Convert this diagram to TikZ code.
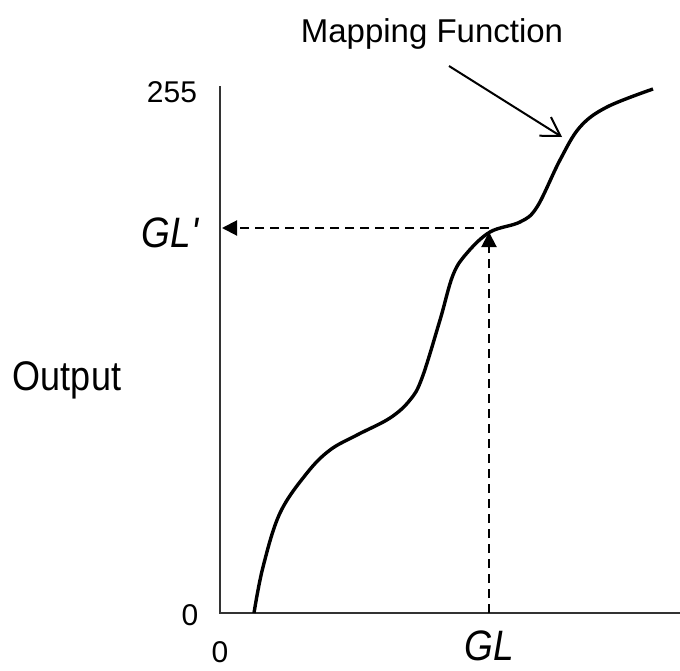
\documentclass[tikz,border=0pt]{standalone}
\usepackage{fontspec}
\setmainfont{Liberation Sans}
\usepackage{graphicx}
\usepackage{tikz}
\usetikzlibrary{arrows.meta, positioning}

\tikzset{
    axisline/.style={line width=2pt, black!80},
    mapcurve/.style={line width=3.4pt, black},
    guide/.style={line width=2pt, black, dash pattern=on 9pt off 6pt, -{Triangle[length=15pt,width=15pt]}},
    lbl/.style={anchor=base, inner sep=0pt, font=\fontsize{30}{30}\selectfont},
    biglbl/.style={anchor=base, inner sep=0pt, font=\fontsize{37}{37}\selectfont\itshape}
}
\newcommand{\tall}[1]{\scalebox{1}[1.15]{#1}}

\begin{document}
\begin{tikzpicture}[x=1pt, y=-1pt]
    \useasboundingbox (0,0) rectangle (680,670);

    % Axes
    \coordinate (origin) at (220,613);
    \coordinate (ytop) at (220,86);
    \coordinate (xend) at (680,613);
    \draw[axisline] (ytop) -- (origin) -- (xend);

    % Mapping curve
    \draw[mapcurve] plot[smooth, tension=0.6] coordinates {
        (254,613) (263,567) (280,513) (307,473) (330,450) (357,435) (390,418)
        (410,400) (422,378) (440,320) (453,275) (467,253) (490,232) (520,222)
        (537,207) (560,160) (580,127) (607,107) (653,89)};

    % Lookup of GL
    \coordinate (gl) at (489,613);
    \coordinate (glc) at (489,232);
    \coordinate (glh) at (489,228);
    \coordinate (glp) at (222,228);
    \draw[guide] (gl) -- (glc);
    \draw[guide] (glh) -- (glp);

    % Labels
    \node[lbl] (top) at (172,102) {255};
    \node[lbl] (yzero) at (190,625) {0};
    \node[lbl, text depth=0pt] (xzero) at (220,662) {0};
    \node[biglbl] (glout) at (170,247) {\tall{GL\textquotesingle}};
    \node[biglbl, text depth=0pt] (glin) at (489,660) {\tall{GL}};
    \node[lbl, font=\fontsize{36}{36}\selectfont] (output) at (67,390) {\tall{Output}};
    \node[lbl, font=\fontsize{33}{33}\selectfont] (mapfn) at (432,42) {Mapping Function};

    % Pointer to the curve
    \coordinate (curvept) at (562,137);
    \draw[line width=2pt, -{Straight Barb[length=18pt,width=22pt]}] (449,66) -- (curvept);
\end{tikzpicture}
\end{document}
